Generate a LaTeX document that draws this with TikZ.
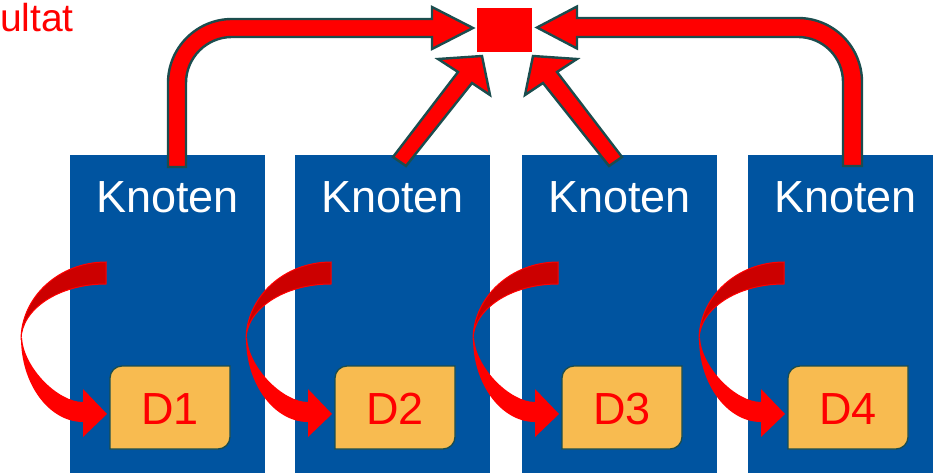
\documentclass[tikz,border=0pt]{standalone}
\usepackage{fontspec}
\setmainfont{Liberation Sans}
\definecolor{nodeblue}{HTML}{0054A0}
\definecolor{outl}{HTML}{1B4D4E}
\definecolor{arrowred}{HTML}{FF0000}
\definecolor{darkred}{HTML}{CC0000}
\definecolor{datafill}{HTML}{F8BB50}
\begin{document}
\begin{tikzpicture}[x=1pt,y=-1pt,
  knotbox/.style={fill=nodeblue,inner sep=0pt,minimum width=195pt,minimum height=330pt,anchor=north west},
  knotlabel/.style={text=white,font=\fontsize{45}{54}\selectfont,anchor=base,inner sep=0pt},
  datalabel/.style={text=arrowred,font=\fontsize{45}{54}\selectfont,anchor=base,inner sep=0pt},
  datashape/.style={fill=datafill,draw=outl,line width=1.3pt},
  blockarrow/.style={fill=arrowred,draw=outl,line width=2.4pt,line join=miter,miter limit=10},
  backband/.style={fill=darkred,draw=arrowred,line width=1pt},
  frontband/.style={fill=arrowred},
]
\useasboundingbox (0,0) rectangle (933,473);

% caption in the upper left corner
\node[text=arrowred,font=\fontsize{39}{46}\selectfont,anchor=base east,inner sep=0pt] (cap) at (74,32) {ultat};

% the four compute nodes with their labels
\foreach \i/\o in {1/0,2/225,3/452,4/678} {
  \node[knotbox] (k\i) at (70+\o,155) {};
  \node[knotlabel] (t\i) at (167.5+\o,212) {Knoten};
}

% local data blocks (top-left and bottom-right corners rounded)
\foreach \i/\o in {1/0,2/225,3/452,4/678} {
  \begin{scope}[xshift=\o pt]
    \draw[datashape] (110,449) -- (110,378) arc[start angle=180,end angle=270,radius=12]
      -- (230,366) -- (230,437) arc[start angle=0,end angle=90,radius=12] -- cycle;
  \end{scope}
  \node[datalabel] (d\i) at (170+\o,424) {D\i};
}

% collected result
\node[fill=arrowred,minimum width=55pt,minimum height=44pt,inner sep=0pt,anchor=north west] (res) at (477,8) {};

% bent arrow from the first node
\draw[blockarrow] (168,167) -- (168,83) arc[start angle=180,end angle=270,radius=64]
  -- (432,19) -- (432,7) -- (473,28) -- (432,49) -- (432,37)
  -- (232,37) arc[start angle=270,end angle=180,radius=46] -- (186,167) -- cycle;

% bent arrow from the last node
\draw[blockarrow] (862,166) -- (862,82) arc[start angle=0,end angle=-90,radius=64]
  -- (577,18) -- (577,6.5) -- (537,27.5) -- (577,48.5) -- (577,37)
  -- (798,37) arc[start angle=-90,end angle=0,radius=45] -- (843,166) -- cycle;

% diagonal arrows from the middle nodes
\draw[blockarrow] (393,157) -- (458,72) -- (438,59) -- (482,56) -- (490,95) -- (472,83) -- (406,166) -- cycle;
\draw[blockarrow] (622,157) -- (557,72) -- (577,59) -- (533,56) -- (525,95) -- (543,83) -- (609,166) -- cycle;

% curved arrows from each node into its data block
\foreach \o in {0,225,452,678} {
  \begin{scope}[xshift=\o pt]
    \filldraw[backband] (106,262) .. controls (59,262) and (21,297) .. (21,340)
      .. controls (21,309) and (59,284) .. (106,284) -- cycle;
    \fill[frontband] (21,338) .. controls (21,384) and (49,422) .. (83,422)
      -- (83,437) -- (107,414) -- (83,389) -- (83,402)
      .. controls (58,402) and (24,368) .. (22,338) -- cycle;
  \end{scope}
}
\end{tikzpicture}
\end{document}
